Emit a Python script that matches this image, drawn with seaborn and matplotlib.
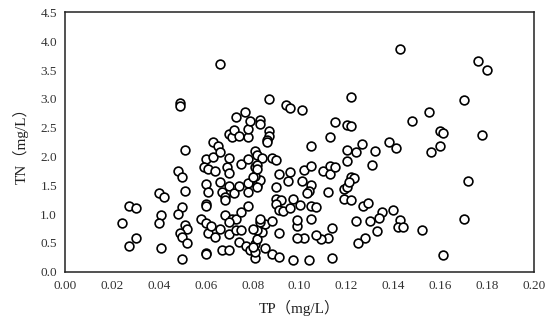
import matplotlib
matplotlib.use("Agg")
import matplotlib.pyplot as plt
import seaborn as sns
import pandas as pd
from matplotlib.ticker import FormatStrFormatter

tp = [0.024, 0.027, 0.030, 0.027, 0.030, 0.040, 0.042, 0.041, 0.040, 0.041,
      0.049, 0.049, 0.051, 0.048, 0.050, 0.051, 0.050, 0.048, 0.051, 0.052,
      0.049, 0.050, 0.052, 0.050, 0.060, 0.063, 0.059, 0.061, 0.064, 0.063,
      0.065, 0.066, 0.060, 0.061, 0.060, 0.060, 0.058, 0.060, 0.061, 0.064,
      0.060, 0.060, 0.062, 0.066, 0.066, 0.067, 0.068, 0.066, 0.070, 0.068,
      0.070, 0.069, 0.070, 0.070, 0.071, 0.072, 0.073, 0.0766, 0.074, 0.072,
      0.074, 0.075, 0.068, 0.071, 0.073, 0.070, 0.075, 0.070, 0.073, 0.075,
      0.074, 0.067, 0.070, 0.077, 0.079, 0.081, 0.081, 0.085, 0.082, 0.084,
      0.082, 0.085, 0.083, 0.088, 0.080, 0.078, 0.078, 0.082, 0.083, 0.081,
      0.078, 0.078, 0.081, 0.081, 0.078, 0.078, 0.079, 0.083, 0.083, 0.082,
      0.084, 0.082, 0.082, 0.087, 0.087, 0.086, 0.086, 0.087, 0.088, 0.090,
      0.080, 0.082, 0.094, 0.096, 0.101, 0.091, 0.096, 0.102, 0.105, 0.110,
      0.113, 0.113, 0.095, 0.101, 0.105, 0.104, 0.103, 0.112, 0.119, 0.120,
      0.122, 0.123, 0.121, 0.119, 0.122, 0.090, 0.090, 0.092, 0.097, 0.090,
      0.091, 0.093, 0.096, 0.100, 0.105, 0.107, 0.127, 0.129, 0.135, 0.134,
      0.140, 0.130, 0.124, 0.143, 0.142, 0.144, 0.133, 0.152, 0.128, 0.125,
      0.114, 0.112, 0.109, 0.107, 0.102, 0.099, 0.099, 0.099, 0.105, 0.091,
      0.088, 0.091, 0.097, 0.104, 0.114, 0.083, 0.081, 0.080, 0.115, 0.113,
      0.105, 0.120, 0.124, 0.1266, 0.132, 0.138, 0.141, 0.156, 0.160, 0.120,
      0.131, 0.115, 0.143, 0.122, 0.155, 0.148, 0.120, 0.122, 0.160, 0.161,
      0.176, 0.180, 0.170, 0.178, 0.172, 0.170, 0.161]

tn = [0.84, 1.14, 1.11, 0.44, 0.58, 1.37, 1.29, 0.98, 0.85, 0.42,
      2.92, 2.88, 2.11, 1.75, 1.65, 1.40, 1.12, 1.01, 0.81, 0.75,
      0.67, 0.60, 0.50, 0.22, 1.96, 1.99, 1.81, 1.78, 1.75, 2.25,
      2.19, 2.07, 1.53, 1.38, 1.18, 1.14, 0.91, 0.85, 0.68, 0.60,
      0.33, 0.30, 0.79, 0.75, 1.56, 1.38, 1.30, 3.61, 1.49, 1.24,
      1.97, 1.82, 1.72, 2.39, 2.34, 2.46, 2.68, 2.77, 2.35, 1.36,
      1.48, 1.87, 0.98, 0.91, 0.91, 0.86, 1.03, 0.66, 0.73, 0.73,
      0.52, 0.37, 0.38, 0.44, 0.37, 0.23, 0.49, 0.42, 0.56, 0.69,
      0.73, 0.82, 0.86, 0.88, 0.75, 1.14, 1.54, 1.50, 1.59, 1.66,
      1.38, 1.96, 1.82, 2.10, 2.34, 2.48, 2.61, 2.64, 2.57, 2.02,
      1.97, 1.85, 1.79, 2.44, 2.36, 2.28, 2.25, 3.00, 1.98, 1.94,
      1.64, 1.47, 2.89, 2.85, 2.81, 1.70, 1.73, 1.77, 1.84, 1.75,
      1.84, 1.69, 1.58, 1.58, 1.51, 1.40, 1.37, 1.38, 1.43, 1.47,
      1.64, 1.62, 1.56, 1.27, 1.24, 1.47, 1.27, 1.24, 1.27, 1.18,
      1.08, 1.05, 1.11, 1.16, 1.14, 1.13, 1.14, 1.19, 1.04, 0.94,
      1.07, 0.88, 0.88, 0.89, 0.78, 0.77, 0.71, 0.72, 0.59, 0.50,
      0.76, 0.59, 0.57, 0.63, 0.59, 0.59, 0.79, 0.90, 0.91, 0.67,
      0.30, 0.26, 0.21, 0.21, 0.24, 0.91, 0.34, 0.43, 2.59, 2.33,
      2.19, 2.11, 2.08, 2.22, 2.10, 2.25, 2.15, 2.07, 2.19, 1.93,
      1.86, 1.82, 3.86, 3.04, 2.78, 2.61, 2.55, 2.53, 2.45, 2.41,
      3.66, 3.50, 2.98, 2.37, 1.58, 0.92, 0.29]

x_ticks = [0.00, 0.02, 0.04, 0.06, 0.08, 0.10, 0.12, 0.14, 0.16, 0.18, 0.20]
y_ticks = [0.0, 0.5, 1.0, 1.5, 2.0, 2.5, 3.0, 3.5, 4.0, 4.5]
x_label = "TP（mg/L）"
y_label = "TN（mg/L）"

df = pd.DataFrame({"TP": tp, "TN": tn})

sns.set_theme(style="white")
serif = ["Liberation Serif", "Noto Sans CJK SC", "DejaVu Sans"]
plt.rcParams["font.family"] = serif

fig = plt.figure(figsize=(5.5, 3.27), dpi=100)
ax = fig.add_axes([0.1187, 0.169, 0.8523, 0.793])

sns.scatterplot(data=df, x="TP", y="TN", ax=ax, marker="o", s=40,
                facecolor="white", edgecolor="black", linewidth=1.2)

ax.set_xlim(0, 0.20)
ax.set_ylim(0, 4.5)
ax.set_xticks(x_ticks)
ax.set_yticks(y_ticks)
ax.xaxis.set_major_formatter(FormatStrFormatter("%.2f"))
ax.yaxis.set_major_formatter(FormatStrFormatter("%.1f"))
ax.tick_params(axis="both", length=0, labelsize=9.5, colors="#333333", pad=6)
for sp in ax.spines.values():
    sp.set_visible(True)
    sp.set_color("#222222")
    sp.set_linewidth(1.1)

ax.set_xlabel(x_label, fontsize=11, family=serif, color="#222222", labelpad=6)
ax.set_ylabel(y_label, fontsize=11, family=serif, color="#222222", labelpad=8)
ax.grid(False)

fig.savefig("out.png", dpi=100, facecolor="white")
